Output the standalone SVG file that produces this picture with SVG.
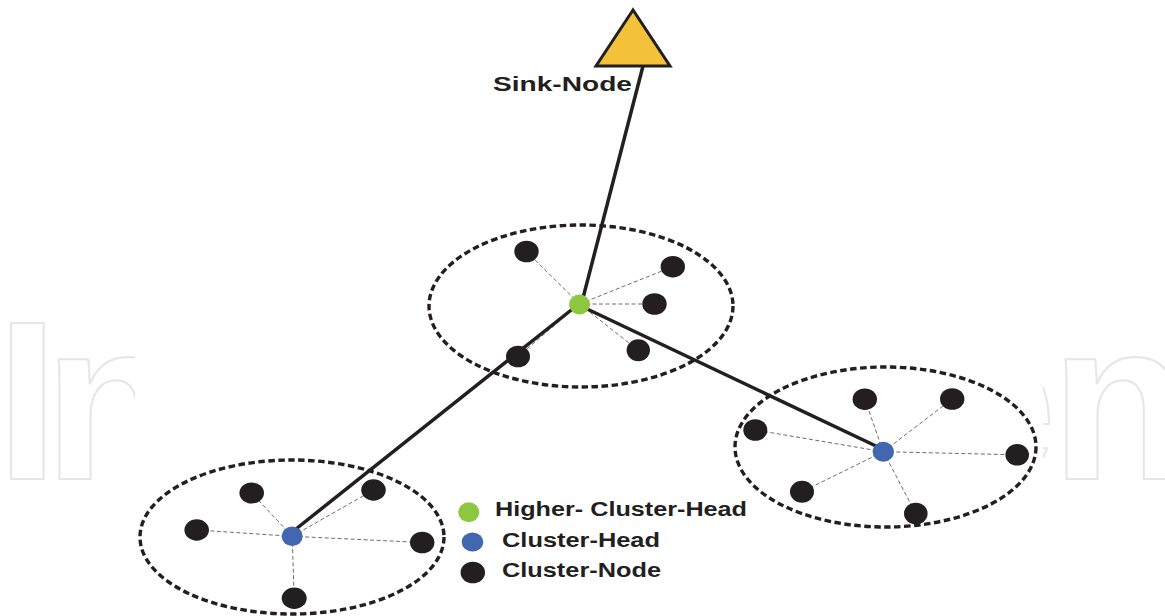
<svg xmlns="http://www.w3.org/2000/svg" width="1165" height="616" viewBox="0 0 1165 616">
<style>
.wm{font-family:"Liberation Sans",Arial,sans-serif;font-weight:bold;font-size:226px;fill:#fff;stroke:#e6e6e6;stroke-width:2}
.lbl{font-family:"Liberation Sans",Arial,sans-serif;font-weight:bold;font-size:20px;fill:#231f20}
.cl{fill:none;stroke:#231f20;stroke-width:3.4;stroke-dasharray:6.5 3.5}
.thin{stroke:#6d6d6d;stroke-width:1;stroke-dasharray:4 2.5;fill:none}
.thick{stroke:#231f20;stroke-width:3.5;fill:none}
.cn{fill:#231f20}
.ch{fill:#4266b0}
.hch{fill:#8dc63f}
</style>
<rect width="1165" height="616" fill="#fff"/>
<g id="watermark">
<text class="wm" x="-4" y="479" letter-spacing="-15">In</text>
<text class="wm" x="931" y="479" letter-spacing="-6">en</text>
<rect x="135" y="0" width="908" height="616" fill="#fff"/>
</g>
<g id="clusters">
<ellipse class="cl" cx="581" cy="306" rx="152" ry="81"/>
<ellipse class="cl" cx="292" cy="537" rx="152" ry="77"/>
<ellipse class="cl" cx="885.5" cy="447" rx="150.5" ry="80"/>
</g>
<g id="connectors">
<line class="thin" x1="579.5" y1="304" x2="526.5" y2="251.5"/>
<line class="thin" x1="579.5" y1="304" x2="672.7" y2="266.7"/>
<line class="thin" x1="579.5" y1="304" x2="654.5" y2="304"/>
<line class="thin" x1="579.5" y1="304" x2="638.3" y2="350.3"/>
<line class="thin" x1="579.5" y1="304" x2="518" y2="356.5"/>
<line class="thin" x1="292.2" y1="536.3" x2="251.7" y2="493"/>
<line class="thin" x1="292.2" y1="536.3" x2="373.5" y2="490"/>
<line class="thin" x1="292.2" y1="536.3" x2="196.7" y2="530"/>
<line class="thin" x1="292.2" y1="536.3" x2="422.2" y2="542.5"/>
<line class="thin" x1="292.2" y1="536.3" x2="294.2" y2="598.3"/>
<line class="thin" x1="883.3" y1="451.7" x2="864.8" y2="399.2"/>
<line class="thin" x1="883.3" y1="451.7" x2="952.2" y2="399"/>
<line class="thin" x1="883.3" y1="451.7" x2="755.3" y2="430"/>
<line class="thin" x1="883.3" y1="451.7" x2="1017.2" y2="454.8"/>
<line class="thin" x1="883.3" y1="451.7" x2="802" y2="491.7"/>
<line class="thin" x1="883.3" y1="451.7" x2="915.8" y2="513.5"/>
<line class="thick" x1="643" y1="66" x2="583" y2="298"/>
<line class="thick" x1="575" y1="307" x2="296" y2="529"/>
<line class="thick" x1="585" y1="308" x2="877" y2="446.5"/>
</g>
<g id="sink-node">
<polygon points="633,10 596,66 670,66" fill="#f3c13a" stroke="#231f20" stroke-width="3" stroke-linejoin="miter"/>
<text class="lbl" x="493" y="91" textLength="139" lengthAdjust="spacingAndGlyphs">Sink-Node</text>
</g>
<g id="higher-cluster-head"><ellipse class="hch" cx="579.5" cy="304.5" rx="10.5" ry="10"/></g>
<g id="cluster-head-left"><ellipse class="ch" cx="292.2" cy="536.3" rx="10.5" ry="9.8"/></g>
<g id="cluster-head-right"><ellipse class="ch" cx="883.3" cy="451.7" rx="10.7" ry="10"/></g>
<g id="cluster-nodes-top">
<ellipse class="cn" cx="526.5" cy="251.5" rx="12.2" ry="10.8"/>
<ellipse class="cn" cx="672.8" cy="266.7" rx="12.2" ry="10.8"/>
<ellipse class="cn" cx="654.5" cy="304" rx="12.2" ry="10.8"/>
<ellipse class="cn" cx="638.3" cy="350.3" rx="11.7" ry="11"/>
<ellipse class="cn" cx="518" cy="356.5" rx="12" ry="10.8"/>
</g>
<g id="cluster-nodes-left">
<ellipse class="cn" cx="251.7" cy="493" rx="12.3" ry="10.5"/>
<ellipse class="cn" cx="373.5" cy="490" rx="12.3" ry="10.7"/>
<ellipse class="cn" cx="196.7" cy="530" rx="12.3" ry="10.7"/>
<ellipse class="cn" cx="422.2" cy="542.5" rx="12.2" ry="10.8"/>
<ellipse class="cn" cx="294.2" cy="598.3" rx="12.5" ry="10.7"/>
</g>
<g id="cluster-nodes-right">
<ellipse class="cn" cx="864.8" cy="399.2" rx="12.2" ry="10.8"/>
<ellipse class="cn" cx="952.2" cy="399" rx="12.2" ry="10.8"/>
<ellipse class="cn" cx="755.3" cy="430" rx="12" ry="10.8"/>
<ellipse class="cn" cx="1017.2" cy="454.8" rx="11.8" ry="10.8"/>
<ellipse class="cn" cx="802" cy="491.7" rx="12" ry="11"/>
<ellipse class="cn" cx="915.8" cy="513.5" rx="11.8" ry="10.8"/>
</g>
<g id="legend">
<ellipse class="hch" cx="468.8" cy="512.3" rx="10.5" ry="10"/>
<text class="lbl" x="495" y="516" font-size="21" textLength="252" lengthAdjust="spacingAndGlyphs">Higher- Cluster-Head</text>
<ellipse class="ch" cx="472.5" cy="542" rx="10.8" ry="9.5"/>
<text class="lbl" x="502" y="547" font-size="21" textLength="158" lengthAdjust="spacingAndGlyphs">Cluster-Head</text>
<ellipse class="cn" cx="472.8" cy="572.5" rx="12.2" ry="10.8"/>
<text class="lbl" x="502" y="577" font-size="21" textLength="159" lengthAdjust="spacingAndGlyphs">Cluster-Node</text>
</g>
</svg>
